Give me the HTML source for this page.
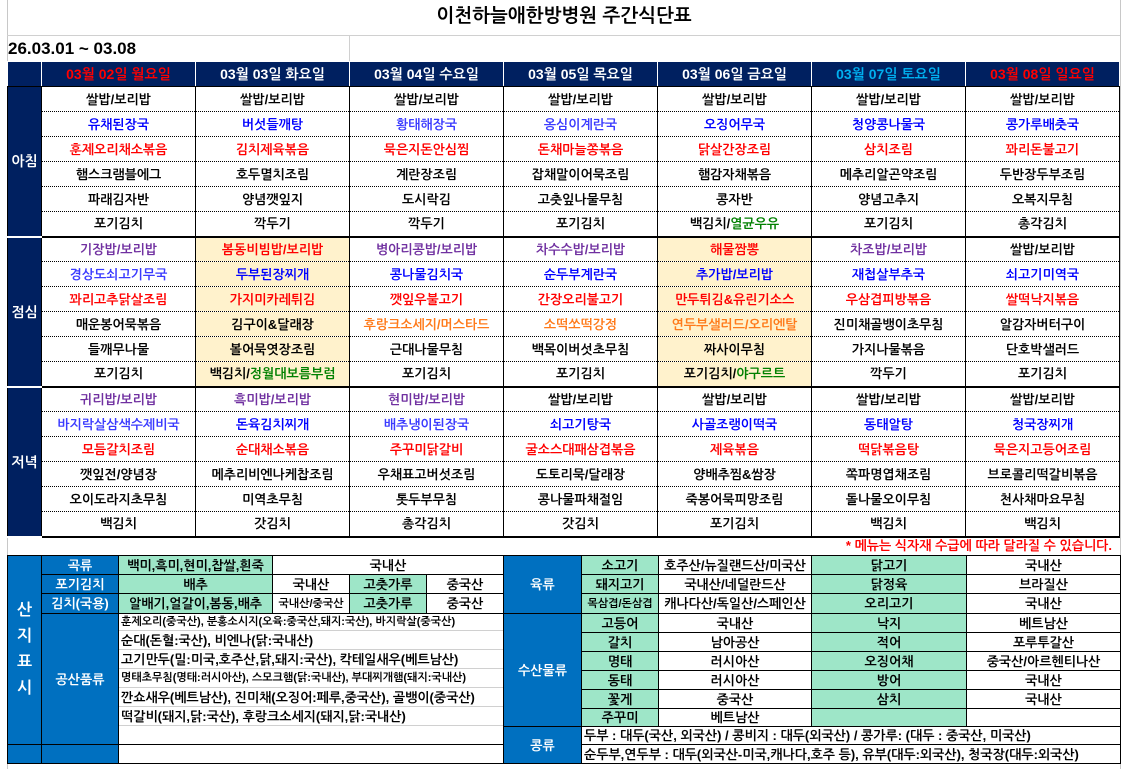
<!DOCTYPE html>
<html><head><meta charset="utf-8">
<style>
*{margin:0;padding:0;box-sizing:border-box}
body{width:1124px;height:769px;background:#fff;position:relative;overflow:hidden;font-family:"Liberation Sans","NanumGothic","Noto Sans CJK KR",sans-serif;font-weight:bold;color:#000}
.a{position:absolute}
#menu{position:absolute;left:7px;top:61px;border-collapse:collapse;table-layout:fixed}
#menu td{height:25px;text-align:center;font-size:13px;border-left:1px solid #000;border-right:1px solid #000;border-bottom:1px dotted #000;white-space:nowrap;overflow:hidden;padding:0}
#menu tr.h td{background:#002060;color:#fff;border:1px solid #fff;border-bottom:1px solid #000;font-size:14px}
#menu tr.h td.hr{color:#ff0000}
#menu tr.h td.hs{color:#00b0f0}
#menu tr.e td{border-bottom:2px solid #000}
#menu td.m{background:#002060;color:#fff;border-bottom:2px solid #fff;font-size:14px}
.y{background:#fff2cc}
.p{color:#7030a0}.b{color:#0000ff}.r{color:#ff0000}.o{color:#ff7a1a}.g{color:#008000}.lb{color:#3b3bff}
.c{position:absolute;border:1px solid #000;display:flex;align-items:center;justify-content:center;font-size:13px;white-space:nowrap;overflow:hidden}
.bl{background:#0070c0;color:#fff}
.gr{background:#9ee6c8}
.t{position:absolute;left:118px;width:385px;border-bottom:1px solid #d0d0d0;font-size:13px;padding-left:3px;display:flex;align-items:center;white-space:nowrap;overflow:hidden}
</style></head><body>
<div class="a" style="left:7px;top:0;width:1px;height:769px;background:#c8c8c8"></div>
<div class="a" style="left:1120px;top:0;width:1px;height:769px;background:#c8c8c8"></div>
<div class="a" style="left:7px;top:35px;width:1113px;height:1px;background:#d0d0d0"></div>
<div class="a" style="left:349px;top:35px;width:1px;height:26px;background:#d0d0d0"></div>
<div class="a" style="left:0;top:3px;width:1128px;text-align:center;font-size:19px;line-height:28px">이천하늘애한방병원 주간식단표</div>
<div class="a" style="left:8px;top:37px;font-size:17px;line-height:24px">26.03.01 ~ 03.08</div>

<table id="menu">
<colgroup><col style="width:34px"><col style="width:154px"><col style="width:154px"><col style="width:154px"><col style="width:154px"><col style="width:154px"><col style="width:154px"><col style="width:154px"></colgroup>
<tr class="h"><td></td><td class="hr">03월 02일 월요일</td><td>03월 03일 화요일</td><td>03월 04일 수요일</td><td>03월 05일 목요일</td><td>03월 06일 금요일</td><td class="hs">03월 07일 토요일</td><td class="hr">03월 08일 일요일</td></tr>
<tr><td class="m" rowspan="6">아침</td><td>쌀밥/보리밥</td><td>쌀밥/보리밥</td><td>쌀밥/보리밥</td><td>쌀밥/보리밥</td><td>쌀밥/보리밥</td><td>쌀밥/보리밥</td><td>쌀밥/보리밥</td></tr>
<tr><td class="b">유채된장국</td><td class="b">버섯들깨탕</td><td class="lb">황태해장국</td><td class="lb">옹심이계란국</td><td class="b">오징어무국</td><td class="b">청양콩나물국</td><td class="b">콩가루배춧국</td></tr>
<tr><td class="r">훈제오리채소볶음</td><td class="r">김치제육볶음</td><td class="r">묵은지돈안심찜</td><td class="r">돈채마늘쫑볶음</td><td class="r">닭살간장조림</td><td class="r">삼치조림</td><td class="r">꽈리돈불고기</td></tr>
<tr><td>햄스크램블에그</td><td>호두멸치조림</td><td>계란장조림</td><td>잡채말이어묵조림</td><td>햄감자채볶음</td><td>메추리알곤약조림</td><td>두반장두부조림</td></tr>
<tr><td>파래김자반</td><td>양념깻잎지</td><td>도시락김</td><td>고춧잎나물무침</td><td>콩자반</td><td>양념고추지</td><td>오복지무침</td></tr>
<tr class="e"><td>포기김치</td><td>깍두기</td><td>깍두기</td><td>포기김치</td><td>백김치/<span class="g">열균우유</span></td><td>포기김치</td><td>총각김치</td></tr>
<tr><td class="m" rowspan="6">점심</td><td class="p">기장밥/보리밥</td><td class="r y">봄동비빔밥/보리밥</td><td class="p">병아리콩밥/보리밥</td><td class="p">차수수밥/보리밥</td><td class="r y">해물짬뽕</td><td class="p">차조밥/보리밥</td><td>쌀밥/보리밥</td></tr>
<tr><td class="lb">경상도쇠고기무국</td><td class="b y">두부된장찌개</td><td class="b">콩나물김치국</td><td class="b">순두부계란국</td><td class="b y">추가밥/보리밥</td><td class="b">재첩살부추국</td><td class="b">쇠고기미역국</td></tr>
<tr><td class="r">꽈리고추닭살조림</td><td class="r y">가지미카레튀김</td><td class="r">깻잎우불고기</td><td class="r">간장오리불고기</td><td class="r y">만두튀김&amp;유린기소스</td><td class="r">우삼겹피방볶음</td><td class="r">쌀떡낙지볶음</td></tr>
<tr><td>매운봉어묵볶음</td><td class="y">김구이&amp;달래장</td><td class="o">후랑크소세지/머스타드</td><td class="o">소떡쏘떡강정</td><td class="o y">연두부샐러드/오리엔탈</td><td>진미채골뱅이초무침</td><td>알감자버터구이</td></tr>
<tr><td>들깨무나물</td><td class="y">볼어묵엿장조림</td><td>근대나물무침</td><td>백목이버섯초무침</td><td class="y">짜사이무침</td><td>가지나물볶음</td><td>단호박샐러드</td></tr>
<tr class="e"><td>포기김치</td><td class="y">백김치/<span class="g">정월대보름부럼</span></td><td>포기김치</td><td>포기김치</td><td class="y">포기김치/<span class="g">야구르트</span></td><td>깍두기</td><td>포기김치</td></tr>
<tr><td class="m" rowspan="6">저녁</td><td class="p">귀리밥/보리밥</td><td class="p">흑미밥/보리밥</td><td class="p">현미밥/보리밥</td><td>쌀밥/보리밥</td><td>쌀밥/보리밥</td><td>쌀밥/보리밥</td><td>쌀밥/보리밥</td></tr>
<tr><td class="lb">바지락살삼색수제비국</td><td class="b">돈육김치찌개</td><td class="lb">배추냉이된장국</td><td class="b">쇠고기탕국</td><td class="b">사골조랭이떡국</td><td class="b">동태알탕</td><td class="b">청국장찌개</td></tr>
<tr><td class="r">모듬갈치조림</td><td class="r">순대채소볶음</td><td class="r">주꾸미닭갈비</td><td class="r">굴소스대패삼겹볶음</td><td class="r">제육볶음</td><td class="r">떡닭볶음탕</td><td class="r">묵은지고등어조림</td></tr>
<tr><td>깻잎전/양념장</td><td>메추리비엔나케찹조림</td><td>우채표고버섯조림</td><td>도토리묵/달래장</td><td>양배추찜&amp;쌈장</td><td>쪽파명엽채조림</td><td>브로콜리떡갈비볶음</td></tr>
<tr><td>오이도라지초무침</td><td>미역초무침</td><td>톳두부무침</td><td>콩나물파채절임</td><td>죽봉어묵피망조림</td><td>돌나물오이무침</td><td>천사채마요무침</td></tr>
<tr class="e"><td>백김치</td><td>갓김치</td><td>총각김치</td><td>갓김치</td><td>포기김치</td><td>백김치</td><td>백김치</td></tr>
</table>

<div class="a r" style="right:12px;top:537px;font-size:13px;line-height:18px">* 메뉴는 식자재 수급에 따라 달라질 수 있습니다.</div>

<!-- left origin -->
<div class="c bl" style="left:7px;top:555px;width:35px;height:190px;flex-direction:column;font-size:16px;line-height:26px">산<br>지<br>표<br>시</div>
<div class="c bl" style="left:41px;top:555px;width:78px;height:20px">곡류</div>
<div class="c gr" style="left:118px;top:555px;width:155px;height:20px">백미,흑미,현미,찹쌀,흰죽</div>
<div class="c" style="left:272px;top:555px;width:232px;height:20px">국내산</div>
<div class="c bl" style="left:41px;top:574px;width:78px;height:20px">포기김치</div>
<div class="c gr" style="left:118px;top:574px;width:155px;height:20px">배추</div>
<div class="c" style="left:272px;top:574px;width:78px;height:20px">국내산</div>
<div class="c gr" style="left:349px;top:574px;width:78px;height:20px">고춧가루</div>
<div class="c" style="left:426px;top:574px;width:78px;height:20px">중국산</div>
<div class="c bl" style="left:41px;top:593px;width:78px;height:21px">김치(국용)</div>
<div class="c gr" style="left:118px;top:593px;width:155px;height:21px">알배기,얼갈이,봄동,배추</div>
<div class="c" style="left:272px;top:593px;width:78px;height:21px;font-size:11px">국내산/중국산</div>
<div class="c gr" style="left:349px;top:593px;width:78px;height:21px">고춧가루</div>
<div class="c" style="left:426px;top:593px;width:78px;height:21px">중국산</div>
<div class="c bl" style="left:41px;top:613px;width:78px;height:132px">공산품류</div>
<div class="t" style="top:613px;height:18px;font-size:11px">훈제오리(중국산), 분홍소시지(오육:중국산,돼지:국산), 바지락살(중국산)</div>
<div class="t" style="top:631px;height:19px">순대(돈혈:국산), 비엔나(닭:국내산)</div>
<div class="t" style="top:650px;height:19px">고기만두(밀:미국,호주산,닭,돼지:국산), 칵테일새우(베트남산)</div>
<div class="t" style="top:669px;height:19px;font-size:11px">명태초무침(명태:러시아산), 스모크햄(닭:국내산), 부대찌개햄(돼지:국내산)</div>
<div class="t" style="top:688px;height:19px">깐쇼새우(베트남산), 진미채(오징어:페루,중국산), 골뱅이(중국산)</div>
<div class="t" style="top:707px;height:19px">떡갈비(돼지,닭:국산), 후랑크소세지(돼지,닭:국내산)</div>
<div class="c" style="left:118px;top:613px;width:386px;height:132px;background:transparent"></div>
<div class="c bl" style="left:7px;top:744px;width:35px;height:20px"></div>
<div class="c bl" style="left:41px;top:744px;width:78px;height:20px"></div>
<div class="c" style="left:118px;top:744px;width:386px;height:20px"></div>

<!-- right origin -->
<div class="c bl" style="left:503px;top:555px;width:79px;height:59px">육류</div>
<div class="c gr" style="left:581px;top:555px;width:78px;height:20px">소고기</div>
<div class="c" style="left:658px;top:555px;width:154px;height:20px">호주산/뉴질랜드산/미국산</div>
<div class="c gr" style="left:811px;top:555px;width:156px;height:20px">닭고기</div>
<div class="c" style="left:966px;top:555px;width:155px;height:20px">국내산</div>
<div class="c gr" style="left:581px;top:574px;width:78px;height:20px">돼지고기</div>
<div class="c" style="left:658px;top:574px;width:154px;height:20px">국내산/네덜란드산</div>
<div class="c gr" style="left:811px;top:574px;width:156px;height:20px">닭정육</div>
<div class="c" style="left:966px;top:574px;width:155px;height:20px">브라질산</div>
<div class="c gr" style="left:581px;top:593px;width:78px;height:21px;font-size:11px">목삼겹/돈삼겹</div>
<div class="c" style="left:658px;top:593px;width:154px;height:21px">캐나다산/독일산/스페인산</div>
<div class="c gr" style="left:811px;top:593px;width:156px;height:21px">오리고기</div>
<div class="c" style="left:966px;top:593px;width:155px;height:21px">국내산</div>
<div class="c bl" style="left:503px;top:613px;width:79px;height:114px">수산물류</div>

<div class="c gr" style="left:581px;top:613px;width:78px;height:20px">고등어</div>
<div class="c" style="left:658px;top:613px;width:154px;height:20px">국내산</div>
<div class="c gr" style="left:811px;top:613px;width:156px;height:20px">낙지</div>
<div class="c" style="left:966px;top:613px;width:155px;height:20px">베트남산</div>
<div class="c gr" style="left:581px;top:632px;width:78px;height:20px">갈치</div>
<div class="c" style="left:658px;top:632px;width:154px;height:20px">남아공산</div>
<div class="c gr" style="left:811px;top:632px;width:156px;height:20px">적어</div>
<div class="c" style="left:966px;top:632px;width:155px;height:20px">포루투갈산</div>
<div class="c gr" style="left:581px;top:651px;width:78px;height:20px">명태</div>
<div class="c" style="left:658px;top:651px;width:154px;height:20px">러시아산</div>
<div class="c gr" style="left:811px;top:651px;width:156px;height:20px">오징어채</div>
<div class="c" style="left:966px;top:651px;width:155px;height:20px">중국산/아르헨티나산</div>
<div class="c gr" style="left:581px;top:670px;width:78px;height:20px">동태</div>
<div class="c" style="left:658px;top:670px;width:154px;height:20px">러시아산</div>
<div class="c gr" style="left:811px;top:670px;width:156px;height:20px">방어</div>
<div class="c" style="left:966px;top:670px;width:155px;height:20px">국내산</div>
<div class="c gr" style="left:581px;top:689px;width:78px;height:20px">꽃게</div>
<div class="c" style="left:658px;top:689px;width:154px;height:20px">중국산</div>
<div class="c gr" style="left:811px;top:689px;width:156px;height:20px">삼치</div>
<div class="c" style="left:966px;top:689px;width:155px;height:20px">국내산</div>
<div class="c gr" style="left:581px;top:708px;width:78px;height:19px">주꾸미</div>
<div class="c" style="left:658px;top:708px;width:154px;height:19px">베트남산</div>
<div class="c gr" style="left:811px;top:708px;width:156px;height:19px"></div>
<div class="c" style="left:966px;top:708px;width:155px;height:19px"></div>
<div class="c bl" style="left:503px;top:726px;width:79px;height:38px">콩류</div>
<div class="c" style="left:581px;top:726px;width:540px;height:19px;justify-content:flex-start;padding-left:2px">두부 : 대두(국산, 외국산) / 콩비지 : 대두(외국산) / 콩가루: (대두 : 중국산, 미국산)</div>
<div class="c" style="left:581px;top:744px;width:540px;height:20px;justify-content:flex-start;padding-left:2px">순두부,연두부 : 대두(외국산-미국,캐나다,호주 등), 유부(대두:외국산), 청국장(대두:외국산)</div>
</body></html>
